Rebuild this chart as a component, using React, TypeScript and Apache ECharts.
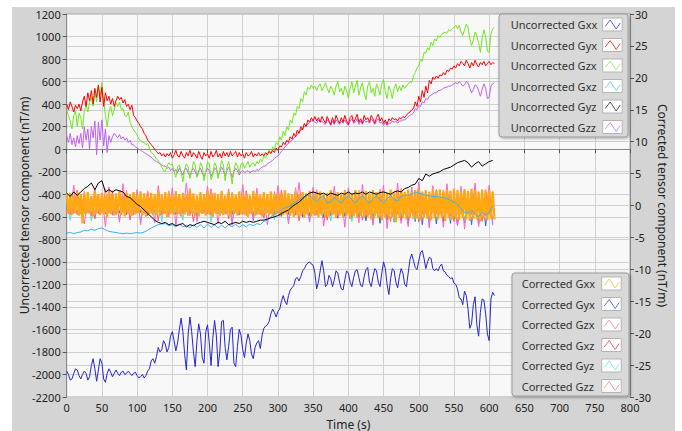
import React, { useEffect, useRef } from "react";
import * as echarts from "echarts";

// sampling intervals (s)
const STEP_FINE = 2.5;
const STEP_COARSE = 5;

// ---- Uncorrected (left axis, nT/m), 2.5 s sampling ----
const UNC_GXX = [
  -1970, -2000, -2050, -2040, -1990, -1950, -1960, -2010, -2040, -2000, -1970, -1990,
  -2050, -2020, -1920, -1860, -1950, -2060, -1960, -1860, -1900, -2040, -2070, -1990,
  -1950, -1980, -2020, -1990, -1960, -1990, -2010, -1980, -1970, -2000, -1990, -1970,
  -1990, -2010, -1990, -1980, -2010, -2030, -2020, -2000, -2030, -2010, -1970, -1950,
  -1880, -1860, -1900, -1840, -1760, -1800, -1780, -1700, -1730, -1800, -1760, -1660,
  -1620, -1700, -1790, -1720, -1600, -1500, -1620, -1820, -1960, -1640, -1490, -1620,
  -1800, -1930, -1700, -1550, -1640, -1850, -1900, -1620, -1560, -1720, -1920, -1680,
  -1520, -1650, -1930, -1800, -1530, -1520, -1760, -1870, -1750, -1600, -1580, -1900,
  -1930, -1750, -1600, -1650, -1780, -1850, -1720, -1640, -1700, -1820, -1860, -1760,
  -1720, -1700, -1770, -1650, -1590, -1570, -1560, -1530, -1460, -1420, -1450, -1490,
  -1440, -1420, -1350, -1300, -1350, -1380, -1300, -1250, -1230, -1210, -1150, -1140,
  -1170, -1130, -1080, -1060, -1030, -1010, -1000, -1020, -1030, -1100, -1240, -1180,
  -1080, -990, -1080, -1220, -1200, -1120, -1150, -1220, -1160, -1080, -1100, -1180,
  -1240, -1250, -1160, -1080, -1100, -1180, -1220, -1140, -1080, -1070, -1140, -1210,
  -1220, -1130, -1070, -1050, -1180, -1220, -1130, -1060, -1080, -1180, -1220, -1100,
  -1000, -1060, -1200, -1290, -1150, -1060, -1080, -1180, -1230, -1130, -1060, -1100,
  -1200, -1220, -1100, -980, -930, -990, -1050, -1070, -990, -920, -900, -970,
  -1060, -1000, -960, -970, -1060, -1080, -1060, -1080, -1040, -1020, -1080, -1090,
  -1120, -1130, -1150, -1140, -1190, -1200, -1240, -1320, -1330, -1380, -1260, -1300,
  -1420, -1590, -1550, -1380, -1310, -1560, -1660, -1450, -1330, -1340, -1460, -1640,
  -1700, -1330, -1270, -1300,
];
const UNC_GYX = [
  400, 350, 420, 380, 330, 390, 360, 400, 340, 420, 470, 380,
  500, 430, 520, 400, 540, 460, 570, 420, 550, 380, 500, 430,
  470, 400, 450, 380, 430, 470, 440, 460, 410, 440, 380, 400,
  350, 390, 300, 280, 250, 230, 200, 180, 140, 120, 80, 60,
  40, 20, 0, -20, -40, -30, -60, -40, -70, -40, -60, -30,
  -80, -50, -10, -60, -70, -20, -60, -80, -30, -60, -10, -70,
  -30, -50, -80, -20, -60, -90, -30, -60, -40, -80, -20, -70,
  -50, -10, -70, -40, -80, -20, -60, -30, -70, -20, -60, -40,
  -20, -70, -30, -60, -40, -80, -30, -60, -50, -20, -70, -40,
  -60, -30, -60, -40, -60, -30, -50, -20, -40, -10, -30, 10,
  -10, 30, 20, 60, 40, 80, 60, 110, 90, 140, 110, 170,
  140, 200, 170, 230, 200, 260, 240, 280, 250, 290, 250, 280,
  240, 290, 260, 230, 290, 250, 220, 280, 230, 300, 260, 230,
  280, 240, 300, 250, 220, 280, 300, 240, 270, 310, 240, 270,
  230, 300, 260, 280, 240, 300, 270, 230, 280, 310, 250, 280,
  230, 260, 220, 270, 250, 280, 260, 270, 250, 280, 270, 290,
  280, 300, 320, 330, 350, 360, 420, 380, 470, 420, 520, 460,
  560, 500, 610, 580, 640, 620, 650, 630, 660, 650, 680, 660,
  700, 690, 720, 710, 740, 720, 760, 740, 780, 760, 740, 790,
  760, 720, 770, 740, 790, 750, 730, 770, 750, 780, 740, 760,
  780, 750, 770, 760,
];
const UNC_GZX = [
  350, 300, 250, 180, 300, 340, 200, 320, 280, 180, 340, 400,
  330, 420, 460, 380, 500, 420, 560, 480, 590, 430, 300, 200,
  330, 380, 300, 350, 410, 380, 420, 350, 360, 300, 290, 330,
  240, 200, 170, 150, 130, 90, 80, 60, 60, 40, 50, 10,
  -30, -40, -60, -90, -100, -130, -160, -190, -200, -150, -120, -140,
  -130, -200, -250, -160, -140, -200, -290, -180, -130, -160, -260, -200,
  -110, -140, -250, -210, -120, -150, -280, -200, -110, -130, -270, -230,
  -120, -150, -260, -180, -100, -140, -280, -160, -110, -200, -310, -180,
  -120, -150, -210, -130, -120, -170, -140, -110, -160, -130, -120, -150,
  -110, -130, -90, -110, -60, -80, -40, -10, -30, 20, 0, 60,
  40, 110, 80, 160, 120, 200, 170, 260, 230, 320, 300, 380,
  360, 450, 420, 510, 480, 550, 530, 570, 540, 560, 520, 560,
  580, 520, 550, 590, 540, 500, 560, 530, 480, 560, 600, 510,
  540, 480, 560, 520, 450, 540, 600, 500, 560, 610, 480, 550,
  590, 500, 440, 560, 600, 500, 540, 470, 580, 540, 480, 580,
  620, 510, 450, 560, 520, 450, 540, 580, 510, 560, 520, 570,
  540, 560, 580, 600, 590, 650, 680, 720, 740, 800, 780, 860,
  850, 900, 880, 950, 920, 980, 960, 1010, 990, 1020, 1030, 1040,
  1030, 1060, 1050, 1070, 1080, 1100, 1070, 1100, 1040, 1010, 1060, 1110,
  1080, 980, 920, 970, 1040, 1000, 940, 860, 980, 1060, 1000, 870,
  860, 1020, 1070, 1080,
];
const UNC_GZZ = [
  120, 60, 140, 40, 100, 20, 120, 50, 140, 10, 200, 80,
  180, 0, 200, 100, 250, -50, 240, 80, 260, 30, 180, -30,
  120, 60, 110, 140, 120, 100, 130, 90, 110, 80, 100, 60,
  80, 40, 40, 20, 10, 0, -10, -20, -30, -40, -50, -60,
  -70, -90, -100, -110, -120, -130, -140, -150, -150, -170, -160, -190,
  -170, -200, -180, -210, -170, -200, -230, -180, -170, -210, -240, -190,
  -170, -200, -240, -190, -170, -210, -250, -200, -170, -190, -240, -210,
  -170, -180, -230, -200, -160, -190, -240, -190, -160, -200, -250, -200,
  -170, -190, -230, -200, -190, -210, -200, -190, -210, -200, -190, -200,
  -180, -190, -170, -160, -150, -150, -130, -120, -110, -100, -80, -70,
  -60, -40, -20, 0, 20, 40, 50, 70, 80, 100, 110, 130,
  150, 170, 180, 200, 210, 220, 240, 250, 250, 240, 230, 260,
  240, 250, 230, 220, 260, 240, 210, 250, 220, 260, 240, 220,
  250, 230, 260, 230, 210, 250, 270, 230, 240, 270, 220, 250,
  220, 260, 240, 250, 230, 270, 250, 220, 250, 270, 230, 240,
  210, 240, 210, 230, 230, 250, 240, 250, 230, 250, 250, 260,
  260, 270, 290, 300, 310, 320, 360, 350, 390, 380, 420, 410,
  450, 440, 470, 480, 490, 500, 500, 520, 520, 530, 540, 550,
  550, 560, 560, 570, 580, 590, 580, 600, 580, 560, 570, 600,
  590, 540, 500, 530, 570, 560, 520, 470, 530, 580, 540, 450,
  460, 560, 580, 590,
];
// 5 s sampling
const UNC_GYZ = [
  -390, -420, -380, -410, -380, -350, -330, -300, -360, -300, -280, -380,
  -360, -380, -360, -370, -380, -420, -430, -460, -490, -510, -540, -570,
  -600, -630, -650, -660, -650, -670, -660, -680, -670, -660, -690, -670,
  -680, -660, -650, -640, -650, -660, -670, -650, -660, -640, -670, -660,
  -650, -660, -640, -650, -640, -650, -640, -630, -630, -620, -610, -600,
  -590, -570, -555, -540, -510, -490, -470, -440, -410, -390, -380, -390,
  -400, -390, -410, -390, -400, -410, -390, -400, -380, -400, -390, -395,
  -380, -400, -380, -390, -400, -385, -380, -390, -400, -380, -370, -380,
  -350, -340, -320, -310, -260, -280, -220, -240, -220, -210, -200, -180,
  -170, -160, -140, -120, -110, -100, -120, -160, -130, -110, -150, -130,
  -110, -100,
];
const UNC_GXZ = [
  -745, -740, -750, -740, -735, -720, -725, -710, -720, -705, -700, -715,
  -730, -735, -740, -745, -750, -745, -750, -745, -740, -745, -735, -720,
  -700, -685, -670, -665, -660, -680, -670, -690, -665, -690, -675, -700,
  -670, -695, -670, -700, -665, -695, -670, -700, -675, -700, -670, -690,
  -665, -695, -670, -690, -665, -680, -660, -670, -640, -630, -600, -580,
  -560, -540, -520, -510, -490, -470, -450, -430, -415, -410, -440, -470,
  -430, -420, -480, -470, -430, -450, -480, -440, -410, -450, -480, -440,
  -410, -450, -480, -440, -415, -450, -480, -440, -410, -450, -460, -420,
  -410, -410, -400, -380, -390, -400, -410, -415, -420, -420, -425, -430,
  -440, -455, -470, -490, -530, -560, -570, -540, -580, -600, -560, -590,
  -560, -500,
];

// ---- Corrected (right axis, nT/m) ----
// 2.5 s sampling
const COR_GXX = [
  1.8, -1.3, 2.0, -1.5, 1.6, -1.2, 2.2, -1.6, 1.7, -2.8, 1.9, -1.4,
  2.1, -1.3, 1.5, -1.7, 2.3, -1.2, 1.8, -1.5, 2.0, -1.4, 1.6, -1.8,
  2.2, -1.3, 1.7, -1.6, 1.9, -1.2, 2.4, -1.5, 1.6, -1.7, 2.0, -1.3,
  1.8, -1.6, 2.1, -1.4, 1.7, -1.2, 2.2, -1.5, 1.9, -1.7, 1.6, -1.3,
  2.0, -1.5, 1.8, -1.4, 2.3, -1.6, 1.7, -1.3, 2.1, -1.8, 1.9, -1.4,
  1.6, -1.5, 2.2, -1.3, 1.8, -1.7, 2.0, -1.4, 1.7, -1.6, 2.4, -1.2,
  1.9, -1.5, 1.6, -1.7, 2.1, -1.3, 1.8, -1.6, 2.2, -1.4, 1.7, -1.8,
  2.0, -1.3, 1.8, -1.6, 2.3, -1.5, 1.6, -1.4, 2.1, -1.7, 1.9, -1.3,
  1.7, -1.6, 2.2, -1.4, 1.8, -1.5, 2.0, -1.8, 1.6, -1.3, 2.3, -1.6,
  1.9, -1.4, 1.7, -1.7, 2.1, -1.3, 1.8, -1.5, 2.2, -1.6, 1.7, -1.4,
  2.0, -1.7, 1.8, -1.5, 2.4, -1.4, 1.9, -1.6, 1.7, -1.8, 2.2, -1.5,
  1.8, -1.6, 2.1, -1.9, 1.9, -1.5, 2.3, -1.7, 1.7, -1.6, 2.0, -1.8,
  2.2, -1.6, 1.8, -1.9, 2.0, -1.7, 2.4, -1.5, 1.9, -2.0, 2.1, -1.6,
  1.8, -1.8, 2.3, -1.6, 2.0, -2.1, 1.9, -1.7, 2.4, -1.9, 2.1, -1.6,
  2.0, -2.0, 2.3, -1.8, 1.9, -2.2, 2.4, -1.7, 2.1, -2.0, 1.9, -2.3,
  2.3, -1.9, 2.0, -2.1, 2.5, -1.8, 2.1, -2.6, 2.2, -1.9, 2.4, -2.0,
  2.1, -2.2, 2.5, -1.9, 2.2, -2.1, 2.4, -2.0, 2.6, -2.3, 2.1, -1.9,
  2.4, -2.1, 2.2, -2.3, 2.6, -2.0, 2.3, -2.2, 2.5, -1.9, 2.2, -2.4,
  2.5, -2.0, 2.3, -2.2, 2.6, -2.1, 2.4, -2.3, 2.2, -2.0, 2.5, -2.2,
  2.3, -2.4, 2.6, -2.1, 2.4, -2.2, 2.2, -2.5, 2.5, -2.0, 2.3, -2.3,
  2.4, -2.1, 2.2, -2.2,
];
// 5 s sampling
const COR_GYX = [
  1.2, -1.4, 1.0, -1.3, 1.5, -1.1, 1.3, -1.5, 1.1, -1.2, 1.4, -1.3,
  1.0, -1.5, 1.3, -1.2, 1.1, -1.4, 1.5, -1.3, 1.2, -1.1, 1.4, -1.6,
  1.3, -1.2, 1.1, -1.5, 1.4, -1.3, 1.2, -1.4, 1.0, -1.2, 1.5, -1.3,
  1.2, -1.6, 1.3, -1.1, 1.4, -1.5, 1.1, -1.3, 1.5, -1.2, 1.3, -1.4,
  1.1, -1.5, 1.4, -1.2, 1.2, -1.6, 1.3, -1.4, 1.5, -1.1, 1.2, -1.3,
  1.4, -1.7, 1.2, -1.4, 1.5, -1.5, 1.3, -1.8, 1.1, -1.6, 1.4, -1.5,
  1.3, -1.9, 1.5, -1.6, 1.2, -2.0, 1.6, -1.7, 1.4, -2.1, 1.3, -1.8,
  1.5, -2.4, 1.7, -2.2, 1.4, -2.8, 1.6, -2.3, 1.5, -2.6, 1.8, -2.4,
  1.6, -2.9, 1.5, -2.5, 1.9, -3.0, 1.6, -2.6, 1.8, -2.9, 1.7, -2.5,
  1.9, -2.8, 1.6, -3.1, 1.8, -2.7, 1.7, -3.0, 2.0, -2.9, 1.8, -3.2,
  1.7, -2.8,
];
const COR_GZX = [
  1.4, -1.2, 3.2, -1.5, 1.8, -2.9, 1.2, -1.6, 2.7, -1.3, 1.5, -3.3,
  2.9, -1.4, 1.3, -2.6, 3.4, -1.2, 1.6, -1.5, 2.5, -3.0, 1.4, -1.3,
  1.7, -2.7, 3.1, -1.4, 1.2, -1.8, 2.8, -3.2, 1.5, -1.3, 3.5, -1.6,
  1.3, -2.5, 1.6, -1.2, 3.0, -1.5, 1.4, -2.8, 1.8, -1.3, 2.6, -3.1,
  1.5, -1.4, 3.3, -1.6, 1.2, -2.4, 2.7, -1.3, 1.6, -3.0, 1.4, -1.5,
  3.1, -1.3, 1.5, -2.9, 1.7, -1.4, 3.6, -1.2, 1.3, -2.6, 2.9, -1.5,
  1.6, -3.2, 1.4, -1.3, 3.0, -1.6, 1.5, -3.4, 2.8, -1.4, 1.3, -2.7,
  3.3, -1.5, 1.6, -3.1, 1.4, -1.3, 3.2, -3.6, 1.5, -1.6, 3.5, -2.8,
  1.4, -3.3, 2.9, -1.5, 3.7, -1.4, 1.6, -3.5, 3.1, -1.3, 1.5, -3.4,
  3.4, -1.6, 1.4, -3.2, 3.0, -3.7, 1.5, -1.4, 3.5, -3.3, 1.6, -1.5,
  3.2, -3.1,
];
const COR_GXZ = [
  -1.2, 1.1, -1.0, 2.4, -1.3, 1.0, -1.1, 1.4, -2.1, 1.0, -1.2, 1.3,
  -1.1, 2.3, -1.4, 1.1, -1.0, 1.2, -2.3, 1.0, -1.1, 1.4, -1.3, 2.1,
  -1.0, 1.1, -2.4, 1.3, -1.2, 1.0, -1.1, 2.2, -1.3, 1.2, -1.0, 1.1,
  -2.5, 1.3, -1.1, 1.0, -1.3, 2.6, -1.0, 1.1, -1.2, 1.2, -2.1, 1.4,
  -1.1, 1.0, -1.3, 2.3, -1.2, 1.1, -1.4, 1.2, -2.0, 1.1, -1.3, 1.0,
  -1.2, 2.4, -1.1, 1.0, -1.1, 1.3, -2.4, 1.2, -1.2, 1.1, -1.3, 2.3,
  -1.0, 1.2, -2.3, 1.1, -1.3, 1.1, -1.1, 2.4, -1.2, 1.2, -1.1, 1.4,
  -2.3, 1.0, -1.4, 1.3, -1.2, 2.3, -1.0, 1.1, -2.5, 1.4, -1.3, 1.1,
  -1.2, 2.2, -1.1, 1.3, -2.6, 1.0, -1.3, 1.2, -1.0, 2.5, -1.4, 1.3,
  -1.2, 1.4, -2.5, 1.1, -1.3, 1.3, -1.2, 2.2, -1.1, 1.2, -2.5, 1.4,
  -1.3, 1.2,
];
const COR_GYZ = [
  1.1, -2.3, 1.2, -1.1, 1.0, -1.3, 1.2, -2.4, 1.1, -1.2, 1.0, -1.1,
  1.3, -1.2, 1.1, -2.4, 1.2, -1.0, 1.1, -1.3, 1.2, -2.6, 1.0, -1.1,
  1.2, -1.3, 1.1, -2.5, 1.0, -1.2, 1.3, -1.1, 1.1, -2.3, 1.2, -1.0,
  1.0, -1.2, 1.3, -1.1, 1.1, -2.6, 1.2, -1.3, 1.0, -1.1, 1.2, -2.5,
  1.1, -1.0, 1.3, -1.2, 1.0, -2.4, 1.1, -1.3, 1.2, -1.1, 1.0, -2.2,
  1.2, -1.3, 1.1, -2.3, 1.3, -1.0, 1.0, -1.2, 1.1, -2.6, 1.3, -1.1,
  1.1, -1.2, 1.2, -2.4, 1.0, -1.3, 1.2, -1.1, 1.1, -2.5, 1.3, -1.2,
  1.2, -1.1, 1.0, -2.8, 1.2, -1.4, 1.1, -1.2, 1.3, -2.6, 1.0, -1.3,
  1.2, -1.4, 1.1, -2.2, 1.0, -1.3, 1.2, -2.9, 1.1, -1.4, 1.0, -1.3,
  1.2, -2.3, 1.1, -1.4, 1.2, -2.5, 1.0, -1.4, 1.3, -2.2, 1.1, -1.3,
  1.0, -2.4,
];
const COR_GZZ = [
  -1.1, 1.2, -1.3, 1.0, -1.2, 2.3, -1.0, 1.1, -1.3, 1.2, -1.1, 2.6,
  -1.2, 1.1, -1.0, 1.3, -1.1, 2.4, -1.3, 1.0, -1.2, 1.2, -1.0, 2.3,
  -1.2, 1.3, -1.1, 1.0, -1.3, 2.3, -1.0, 1.2, -1.2, 1.1, -1.0, 2.7,
  -1.3, 1.0, -1.2, 1.1, -1.1, 2.6, -1.1, 1.2, -1.0, 1.3, -1.2, 2.1,
  -1.1, 1.2, -1.0, 1.3, -1.3, 2.1, -1.2, 1.1, -1.3, 1.1, -1.1, 2.2,
  -1.1, 1.3, -1.2, 1.2, -1.0, 2.8, -1.0, 1.1, -1.3, 1.3, -1.2, 2.5,
  -1.3, 1.0, -1.2, 1.2, -1.1, 2.1, -1.3, 1.2, -1.1, 1.3, -1.2, 2.4,
  -1.2, 1.3, -1.3, 1.2, -1.2, 2.6, -1.2, 1.1, -1.4, 1.3, -1.1, 2.7,
  -1.3, 1.1, -1.2, 1.4, -1.2, 2.2, -1.3, 1.3, -1.1, 1.4, -1.2, 2.5,
  -1.2, 1.4, -1.4, 1.3, -1.1, 2.6, -1.3, 1.1, -1.4, 1.3, -1.2, 2.5,
  -1.3, 1.2,
];

const UNCORRECTED_NAMES = [
  "Uncorrected Gxx", "Uncorrected Gyx", "Uncorrected Gzx",
  "Uncorrected Gxz", "Uncorrected Gyz", "Uncorrected Gzz",
];
const CORRECTED_NAMES = [
  "Corrected Gxx", "Corrected Gyx", "Corrected Gzx",
  "Corrected Gxz", "Corrected Gyz", "Corrected Gzz",
];
const UNCORRECTED_COLORS = ["#2424d8", "#ff0000", "#6fe81c", "#3ab2f0", "#000000", "#c060f0"];
const CORRECTED_COLORS = ["#ffa812", "#3a5ae8", "#ff60c8", "#ff5a6a", "#4fe0e8", "#ff8a8a"];
const UNCORRECTED_ICON = ["#5a5ae8", "#f04848", "#9cf070", "#78cdf4", "#505050", "#d090f4"];
const CORRECTED_ICON = ["#f8c868", "#5a7ae0", "#f49ad0", "#f07078", "#80ecec", "#f4a0a0"];

const UNC_DATA = [
  { vals: UNC_GXX, step: STEP_FINE },
  { vals: UNC_GYX, step: STEP_FINE },
  { vals: UNC_GZX, step: STEP_FINE },
  { vals: UNC_GXZ, step: STEP_COARSE },
  { vals: UNC_GYZ, step: STEP_COARSE },
  { vals: UNC_GZZ, step: STEP_FINE },
];
const COR_DATA = [
  { vals: COR_GXX, step: STEP_FINE },
  { vals: COR_GYX, step: STEP_COARSE },
  { vals: COR_GZX, step: STEP_COARSE },
  { vals: COR_GXZ, step: STEP_COARSE },
  { vals: COR_GYZ, step: STEP_COARSE },
  { vals: COR_GZZ, step: STEP_COARSE },
];

const FONT = "'Noto Sans', 'Open Sans', sans-serif";

function pairs(vals: number[], step: number) {
  return vals.map((v, i) => [i * step, v]);
}

function legendElements(
  names: string[], colors: string[], x0: number, y0: number, w: number, h: number,
  textDx: number, iconDx: number
) {
  const els: any[] = [
    {
      type: "rect",
      z: 100,
      shape: { x: x0, y: y0, width: w, height: h, r: 3 },
      style: {
        fill: "#d8d8d8", stroke: "#9c9c9c", lineWidth: 1,
        shadowBlur: 3, shadowColor: "rgba(0,0,0,0.35)", shadowOffsetX: 1, shadowOffsetY: 1,
      },
    },
  ];
  names.forEach((n, i) => {
    const cy = y0 + 10.5 + i * 20.5;
    els.push({
      type: "text",
      z: 101,
      x: x0 + textDx,
      y: cy,
      style: { text: n, fill: "#333", font: `11px ${FONT}`, verticalAlign: "middle", align: "left" },
    });
    const bx = x0 + iconDx;
    const by = cy - 6.5;
    els.push({
      type: "rect",
      z: 101,
      shape: { x: bx, y: by, width: 19.5, height: 13 },
      style: { fill: "#ffffff", stroke: "#b4b4b4", lineWidth: 1 },
    });
    els.push({
      type: "polyline",
      z: 102,
      shape: { points: [[bx + 2.5, by + 8.5], [bx + 7.5, by + 2], [bx + 13.5, by + 11], [bx + 17.5, by + 5]] },
      style: { stroke: colors[i], lineWidth: 1, fill: "none" },
    });
  });
  return els;
}

export default function App() {
  const ref = useRef<HTMLDivElement>(null);

  useEffect(() => {
    if (!ref.current) return;
    const chart = echarts.init(ref.current, undefined, { renderer: "svg" });

    const corSeries = [1, 3, 4, 5, 2, 0].map((i) => ({
      name: CORRECTED_NAMES[i],
      type: "line",
      yAxisIndex: 1,
      showSymbol: false,
      symbol: "none",
      data: pairs(COR_DATA[i].vals, COR_DATA[i].step),
      lineStyle: { color: CORRECTED_COLORS[i], width: i === 0 ? 2.2 : 1 },
      itemStyle: { color: CORRECTED_COLORS[i] },
      silent: true,
    }));
    const uncSeries = [5, 2, 1, 3, 4, 0].map((i) => ({
      name: UNCORRECTED_NAMES[i],
      type: "line",
      yAxisIndex: 0,
      showSymbol: false,
      symbol: "none",
      data: pairs(UNC_DATA[i].vals, UNC_DATA[i].step),
      lineStyle: { color: UNCORRECTED_COLORS[i], width: 1 },
      itemStyle: { color: UNCORRECTED_COLORS[i] },
      silent: true,
    }));

    const axisText = { fontSize: 11, color: "#222", fontFamily: FONT };
    const gridLine = { show: true, lineStyle: { color: "#d0d0d0", width: 1 } };
    const plain = (v: number) => String(v);

    chart.setOption({
      animation: false,
      backgroundColor: "#d4d4d4",
      grid: {
        left: 54.7, right: 45, top: 7, bottom: 34,
        containLabel: false, outerBoundsMode: "none",
        show: true, backgroundColor: "#f8f8f8", borderColor: "#a8a8a8", borderWidth: 1,
      },
      xAxis: {
        type: "value", min: 0, max: 800, interval: 50,
        name: "Time (s)", nameLocation: "middle", nameGap: 21, nameMoveOverlap: false,
        nameTextStyle: { fontSize: 12, color: "#222", fontFamily: FONT },
        axisLine: { show: true, lineStyle: { color: "#888" } },
        axisTick: { show: true, length: 4, lineStyle: { color: "#555" } },
        axisLabel: { ...axisText, margin: 5, formatter: plain },
        splitLine: gridLine,
      },
      yAxis: [
        {
          type: "value", min: -2200, max: 1200, interval: 200, position: "left",
          name: "Uncorrected tensor component (nT/m)", nameLocation: "middle", nameGap: 36,
          nameRotate: 90, nameMoveOverlap: false,
          nameTextStyle: { fontSize: 12, color: "#222", fontFamily: FONT },
          axisLine: { show: true, lineStyle: { color: "#888" } },
          axisTick: { show: true, length: 4, lineStyle: { color: "#555" } },
          axisLabel: { ...axisText, margin: 6, formatter: plain },
          splitLine: gridLine,
        },
        {
          type: "value", min: -30, max: 30, interval: 5, position: "right",
          name: "Corrected tensor component (nT/m)", nameLocation: "middle", nameGap: 26,
          nameRotate: -90, nameMoveOverlap: false,
          nameTextStyle: { fontSize: 12, color: "#222", fontFamily: FONT },
          axisLine: { show: true, lineStyle: { color: "#888" } },
          axisTick: { show: true, length: 4, lineStyle: { color: "#555" } },
          axisLabel: { ...axisText, margin: 5, formatter: plain },
          splitLine: gridLine,
        },
      ],
      series: [...corSeries, ...uncSeries],
      graphic: [
        ...legendElements(UNCORRECTED_NAMES, UNCORRECTED_ICON, 487, 7, 129, 123, 11.7, 103.7),
        ...legendElements(CORRECTED_NAMES, CORRECTED_ICON, 500, 266, 117, 123, 9.7, 89.7),
      ],
    });

    return () => chart.dispose();
  }, []);

  return (
    <div style={{ position: "fixed", left: 0, top: 0, width: 682, height: 431, background: "#ffffff" }}>
      <div ref={ref} style={{ position: "absolute", left: 12, top: 7, width: 663, height: 424 }} />
    </div>
  );
}
